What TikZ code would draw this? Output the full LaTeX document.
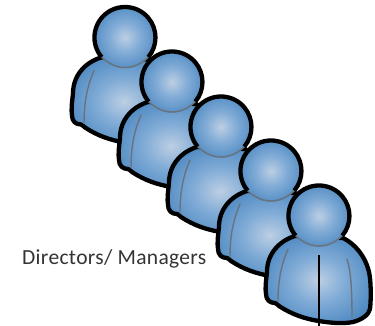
\documentclass[tikz,border=0pt]{standalone}
\usepackage{fontspec}
\setmainfont{Carlito}
\newfontfamily\labelfont[LetterSpace=1.5]{Carlito}
\pgfdeclareradialshading{personshade}{\pgfpoint{0bp}{0bp}}{rgb(0bp)=(0.74,0.81,0.89); rgb(13bp)=(0.50,0.67,0.84); rgb(28bp)=(0.31,0.54,0.76); rgb(42bp)=(0.26,0.49,0.72); rgb(50bp)=(0.24,0.46,0.70)}
\definecolor{foldgray}{RGB}{105,115,125}
\tikzset{
  outline/.style={draw=black,line width=4.3pt,line join=round},
  fold/.style={draw=foldgray,line width=1.4pt,line cap=round},
  person/.pic={
    \path[shading=personshade,outline]
      (-24,20) .. controls (-40,25) and (-52,38) .. (-52,56)
      .. controls (-53,65) and (-54,72) .. (-53,78)
      .. controls (-53,84) and (-49,87) .. (-44,87)
      .. controls (-42,88) and (-41,89) .. (-40,90)
      .. controls (-28,98) and (-14,103) .. (0,105)
      .. controls (12,107) and (24,108) .. (34,106)
      .. controls (42,104) and (50,99) .. (51,93)
      .. controls (52,84) and (52,72) .. (51,62)
      .. controls (49,44) and (38,29) .. (24,22)
      -- cycle;
    \draw[fold] (-31,33) .. controls (-37,47) and (-41,62) .. (-41,86);
    \draw[fold] (28,43) .. controls (32,55) and (33,75) .. (33,101);
    \path[shading=personshade] (0,0) circle[radius=30.5];
    \draw[foldgray,line width=1.5pt] (-23.4,19.6) .. controls (-9,33.5) and (9,33.5) .. (23.4,19.6);
    \draw[outline] (-23.4,19.6) arc[start angle=140,end angle=400,radius=30.5];
  }
}
\begin{document}
\begin{tikzpicture}[x=1pt,y=-1pt]
  \useasboundingbox (0,0) rectangle (375,326);
  \path (125,37.5) pic {person};
  \path (172,82) pic {person};
  \path (221,127) pic {person};
  \path (271,171) pic {person};
  \path (319,216) pic {person};
  \coordinate (linetop) at (319,255);
  \coordinate (linebottom) at (319,326);
  \draw[black,line width=1.2pt] (linetop) -- (linebottom);
  \node[anchor=west,inner sep=0pt,font=\labelfont\fontsize{21.5}{25}\selectfont,text=black!80] (label) at (22,259) {Directors/ Managers};
\end{tikzpicture}
\end{document}
